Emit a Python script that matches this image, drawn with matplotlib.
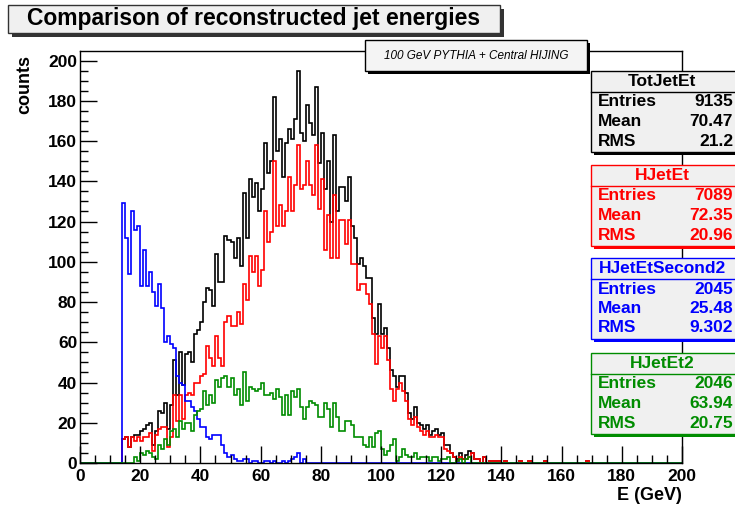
import numpy as np
import matplotlib.pyplot as plt
from matplotlib.patches import Rectangle

plt.rcParams['font.family'] = ['Liberation Sans', 'DejaVu Sans']

W, H = 735, 509

# 1 GeV bins from 0 to 200 GeV
bin_edges = np.arange(0, 201, 1)

# counts per bin, 20 bins per row
tot_jet_et = [
    0, 0, 0, 0, 0, 0, 0, 0, 0, 0, 0, 0, 0, 0, 12, 13, 8, 13, 14, 14,
    16, 17, 19, 20, 9, 16, 26, 25, 30, 17, 29, 51, 34, 55, 39, 54, 55, 50, 64, 66,
    70, 80, 87, 86, 78, 104, 90, 90, 113, 111, 110, 102, 112, 98, 134, 112, 141, 132, 139, 125,
    136, 159, 144, 150, 182, 155, 161, 142, 159, 166, 161, 171, 195, 164, 160, 178, 169, 163, 187, 149,
    164, 136, 150, 120, 163, 125, 137, 137, 130, 142, 118, 112, 99, 102, 98, 92, 92, 72, 64, 79,
    64, 67, 57, 46, 43, 38, 43, 43, 35, 25, 22, 28, 20, 19, 17, 19, 14, 16, 17, 14,
    15, 9, 9, 5, 3, 2, 5, 2, 4, 6, 5, 2, 2, 0, 3, 0, 1, 1, 1, 1,
    0, 1, 0, 0, 0, 0, 1, 0, 0, 1, 0, 0, 0, 0, 1, 0, 0, 0, 0, 0,
    0, 0, 0, 0, 0, 0, 0, 0, 1, 0, 0, 0, 0, 0, 0, 0, 0, 0, 0, 0,
    0, 0, 0, 0, 0, 0, 0, 0, 0, 0, 0, 0, 0, 0, 0, 0, 0, 0, 0, 0,
]

h_jet_et = [
    0, 0, 0, 0, 0, 0, 0, 0, 0, 0, 0, 0, 0, 0, 12, 13, 8, 13, 11, 13,
    11, 13, 13, 15, 6, 14, 17, 18, 18, 8, 13, 34, 21, 34, 22, 34, 35, 34, 40, 40,
    43, 44, 58, 52, 48, 63, 52, 48, 70, 73, 68, 68, 75, 69, 89, 81, 103, 95, 103, 88,
    96, 125, 110, 115, 150, 118, 128, 118, 125, 142, 125, 138, 158, 136, 138, 150, 138, 133, 158, 126,
    141, 106, 123, 102, 133, 102, 121, 121, 109, 121, 99, 99, 86, 89, 89, 84, 79, 64, 49, 63,
    57, 63, 51, 37, 31, 37, 40, 36, 31, 22, 19, 23, 18, 16, 14, 16, 13, 13, 14, 13,
    13, 7, 6, 5, 3, 1, 3, 2, 2, 3, 5, 2, 2, 0, 3, 0, 1, 1, 1, 1,
    0, 1, 0, 0, 0, 0, 1, 0, 0, 1, 0, 0, 0, 0, 1, 0, 0, 0, 0, 0,
    0, 0, 0, 0, 0, 0, 0, 0, 1, 0, 0, 0, 0, 0, 0, 0, 0, 0, 0, 0,
    0, 0, 0, 0, 0, 0, 0, 0, 0, 0, 0, 0, 0, 0, 0, 0, 0, 0, 0, 0,
]

h_jet_et_second2 = [
    0, 0, 0, 0, 0, 0, 0, 0, 0, 0, 0, 0, 0, 0, 129, 112, 94, 125, 116, 118,
    88, 106, 88, 95, 85, 78, 89, 77, 60, 63, 59, 57, 43, 40, 39, 31, 31, 28, 26, 22,
    18, 18, 13, 12, 14, 14, 14, 9, 5, 3, 4, 2, 1, 1, 2, 2, 0, 1, 1, 0,
    0, 1, 1, 0, 1, 0, 0, 1, 0, 1, 2, 3, 5, 0, 2, 0, 0, 0, 0, 0,
] + [0] * 120

h_jet_et2 = [
    0, 0, 0, 0, 0, 0, 0, 0, 0, 0, 0, 0, 0, 0, 0, 0, 0, 0, 3, 1,
    5, 4, 6, 5, 3, 2, 9, 7, 12, 9, 16, 17, 13, 21, 17, 20, 20, 16, 24, 26,
    27, 36, 29, 34, 30, 41, 38, 42, 43, 38, 42, 34, 37, 29, 45, 31, 38, 37, 36, 37,
    40, 34, 34, 35, 32, 37, 33, 24, 34, 24, 36, 33, 37, 28, 22, 28, 31, 30, 29, 23,
    23, 30, 27, 18, 30, 23, 16, 16, 21, 21, 19, 13, 13, 13, 9, 8, 13, 8, 15, 16,
    7, 4, 6, 9, 12, 1, 3, 7, 4, 3, 3, 5, 2, 3, 3, 3, 1, 3, 3, 1,
    2, 2, 3, 0, 0, 1, 2, 0, 2, 3, 0, 0, 0, 0, 0, 0, 0, 0, 0, 0,
] + [0] * 60

names = ['TotJetEt', 'HJetEt', 'HJetEtSecond2', 'HJetEt2']
colors = ['black', '#ff0000', '#0000ff', '#008c00']
entries = ['9135', '7089', '2045', '2046']
means = ['70.47', '72.35', '25.48', '63.94']
rms = ['21.2', '20.96', '9.302', '20.75']
x_ticks = [0, 20, 40, 60, 80, 100, 120, 140, 160, 180, 200]
y_ticks = [0, 20, 40, 60, 80, 100, 120, 140, 160, 180, 200]


def fx(x):
    return x / W


def fy(y):
    return 1 - y / H


fig = plt.figure(figsize=(W / 100, H / 100), dpi=100)
ax = fig.add_axes([fx(80), fy(463), fx(682) - fx(80), fy(51) - fy(463)])

# draw order as in the original: black, red, blue, green
for vals, c in zip([tot_jet_et, h_jet_et, h_jet_et_second2, h_jet_et2], colors):
    ax.stairs(vals, bin_edges, color=c, lw=1.2, baseline=0)

ax.set_xlim(0, 200)
ax.set_ylim(0, 1.05 * max(tot_jet_et))
ax.set_xticks(x_ticks)
ax.set_yticks(y_ticks)
ax.set_xticks(np.arange(0, 201, 5), minor=True)
ax.set_yticks(np.arange(0, 205, 5), minor=True)
ax.tick_params(which='both', direction='in', top=False, right=False)
ax.tick_params(which='major', length=12, width=1)
ax.tick_params(which='minor', length=6, width=1)
ax.tick_params(axis='x', pad=4)
ax.tick_params(axis='y', pad=2)
for lab in ax.get_xticklabels() + ax.get_yticklabels():
    lab.set_fontsize(12.5)
    lab.set_fontweight('bold')
for s in ax.spines.values():
    s.set_linewidth(1)

fig.text(fx(25), fy(55), 'counts', rotation=90, ha='center', va='top',
         fontsize=13, weight='bold')
fig.text(fx(682), fy(495), 'E (GeV)', ha='right', va='center',
         fontsize=13, weight='bold')


def box(x0, y0, x1, y1, edge, fill, shadow=3, lw=1.0):
    # shadow first, offset to the lower right
    fig.patches.append(Rectangle((fx(x0 + shadow), fy(y1 + shadow)),
                                 fx(x1 - x0), fy(y0) - fy(y1),
                                 transform=fig.transFigure, color=edge,
                                 lw=0, zorder=5))
    fig.patches.append(Rectangle((fx(x0), fy(y1)), fx(x1 - x0), fy(y0) - fy(y1),
                                 transform=fig.transFigure, facecolor=fill,
                                 edgecolor=edge, lw=lw, zorder=6))


# title
box(8, 5, 500, 33, '#333333', '#f0f0f0', shadow=4)
fig.text(fx(254), fy(19), 'Comparison of reconstructed jet energies',
         ha='center', va='center', fontsize=16.5, weight='bold', zorder=7)

# info pave
box(365, 40, 587, 71, 'black', '#f4f4f4', shadow=3)
fig.text(fx(476), fy(56), '100 GeV PYTHIA + Central HIJING', ha='center',
         va='center', fontsize=8.5, style='italic', zorder=7)

# stats boxes
tops = [71, 165, 258, 353]
for i in range(4):
    t = tops[i]
    c = colors[i]
    box(591, t, 745, t + 81, c, '#f0f0f0', shadow=3)
    fig.lines.append(plt.Line2D([fx(591), fx(745)], [fy(t + 21), fy(t + 21)],
                                transform=fig.transFigure, color=c, lw=1,
                                zorder=7))
    fig.text(fx(662), fy(t + 10.5), names[i], ha='center', va='center',
             fontsize=12.5, weight='bold', color=c, zorder=8)
    for j, (lab, val) in enumerate(zip(['Entries', 'Mean', 'RMS'],
                                       [entries[i], means[i], rms[i]])):
        yy = t + 31 + 19.5 * j
        fig.text(fx(598), fy(yy), lab, ha='left', va='center', fontsize=12.5,
                 weight='bold', color=c, zorder=8)
        fig.text(fx(733), fy(yy), val, ha='right', va='center', fontsize=12.5,
                 weight='bold', color=c, zorder=8)

fig.savefig('out.png', dpi=100)
